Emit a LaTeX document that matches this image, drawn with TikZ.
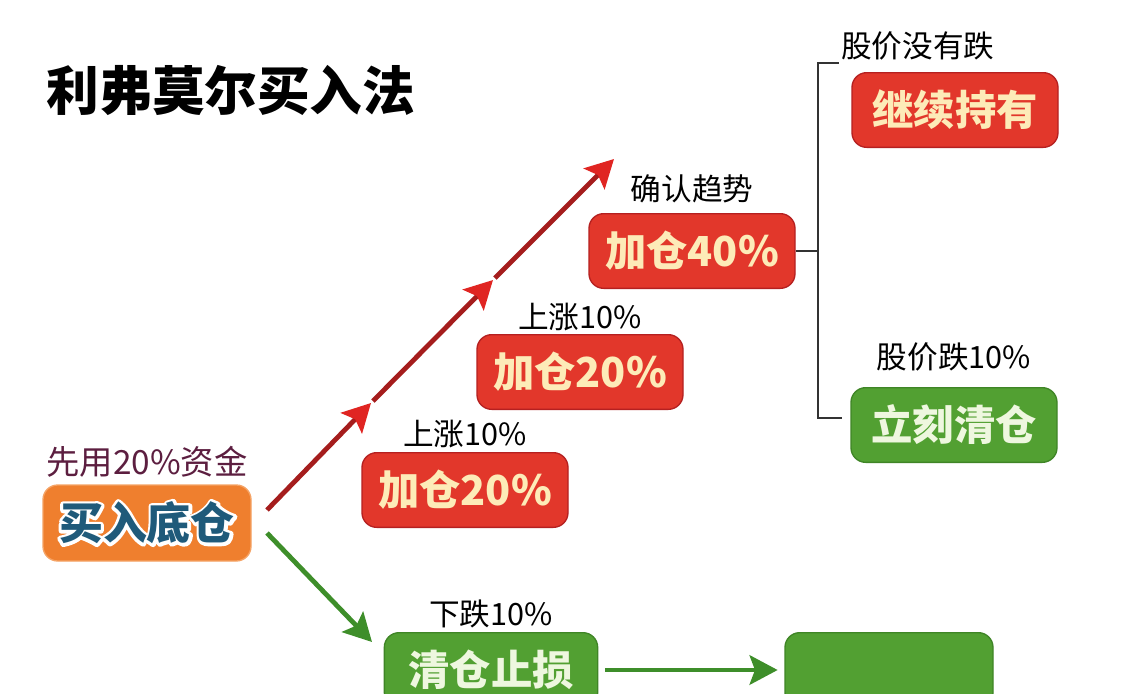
\documentclass[tikz,border=0pt]{standalone}
\usepackage{fontspec}
\setmainfont{Noto Sans CJK SC}
\usepackage{tikz}
\usetikzlibrary{arrows.meta, positioning}

\definecolor{boxred}{HTML}{E2372B}
\definecolor{redline}{HTML}{B52020}
\definecolor{cream}{HTML}{FDEBB8}
\definecolor{boxgreen}{HTML}{52A032}
\definecolor{greenline}{HTML}{3F8526}
\definecolor{leaf}{HTML}{EEF7DF}
\definecolor{boxorange}{HTML}{EF7F2E}
\definecolor{orangeline}{HTML}{F5A365}
\definecolor{seedblue}{HTML}{1F5A7A}
\definecolor{maroon}{HTML}{5C1E40}
\definecolor{arrowred}{HTML}{A51D1D}
\definecolor{tipred}{HTML}{E02522}
\definecolor{arrowgreen}{HTML}{3E8E2A}

% white outline behind a text
\newcommand{\halo}[1]{\rlap{\special{pdf:code q 1 Tr 1 1 1 RG 4.5 w 1 j}\textcolor{white}{#1}\special{pdf:code Q}}#1}

\begin{document}
\begin{tikzpicture}[
        x=0.75pt, y=-0.75pt,
        redbox/.style={rectangle, rounded corners=11pt, draw=redline, line width=1pt, fill=boxred, minimum width=154.5pt, minimum height=56pt, text=cream, font=\bfseries\fontsize{31}{36}\selectfont},
        greenbox/.style={redbox, draw=greenline, fill=boxgreen, text=leaf},
        seedbox/.style={rectangle, rounded corners=11pt, fill=boxorange, draw=orangeline, line width=1pt, minimum width=156pt, minimum height=57pt, text=seedblue, font=\bfseries\fontsize{33}{38}\selectfont},
        lbl/.style={inner sep=1pt, font=\fontsize{23}{27}\selectfont},
        uparrow/.style={line width=3.6pt, draw=arrowred, -{Stealth[length=21pt, width=22pt, inset=4pt, color=tipred]}},
        downarrow/.style={line width=3.6pt, draw=arrowgreen, -{Stealth[length=21pt, width=22pt, inset=4pt]}},
        bracket/.style={line width=1.8pt, draw=black!80}
    ]

    \useasboundingbox (0,0) rectangle (1125,693);
    \clip (0,0) rectangle (1125,693);
    \fill [white] (0,0) rectangle (1125,693);

    % Title
    \node (title) [font=\bfseries\fontsize{39.5}{44}\selectfont] at (231,90) {利弗莫尔买入法};

    % Base position
    \node (seed) [seedbox] at (147,523) {\halo{买入底仓}};
    \node (seedlbl) [lbl, text=maroon, font=\fontsize{25}{29}\selectfont, above=4pt of seed] {先用20\%资金};

    % Adding positions
    \node (add1) [redbox] at (465,490) {加仓20\%};
    \node (up1) [lbl, above=2pt of add1] {上涨10\%};
    \node (add2) [redbox] at (580,372) {加仓20\%};
    \node (up2) [lbl, above=1pt of add2] {上涨10\%};
    \node (add3) [redbox] at (692,251) {加仓40\%};
    \node (trend) [lbl, above=6pt of add3] {确认趋势};

    % Outcomes
    \node (hold) [redbox] at (955,110) {继续持有};
    \node (holdlbl) [lbl, above=8pt of hold, xshift=-28pt] {股价没有跌};
    \node (sell) [greenbox] at (954,425) {立刻清仓};
    \node (selllbl) [lbl, above=11pt of sell] {股价跌10\%};

    % Stop loss
    \node (stop) [greenbox, minimum width=160pt] at (491,670) {清仓止损};
    \node (drop) [lbl, above=2pt of stop] {下跌10\%};
    \node (next) [greenbox, minimum width=156pt] at (889,670) {};

    % Rising path
    \coordinate (r0) at (267,510);
    \coordinate (r1) at (371,403);
    \coordinate (r2) at (493,280);
    \coordinate (r3) at (614,159);
    \draw [uparrow] (r0) -- (r1);
    \draw [uparrow, shorten <=2pt] (r1) -- (r2);
    \draw [uparrow, shorten <=2pt] (r2) -- (r3);

    % Falling path
    \coordinate (g0) at (267,533);
    \coordinate (g1) at (372,642);
    \draw [downarrow] (g0) -- (g1);
    \draw [downarrow] ([xshift=5pt]stop.east) -- ([xshift=-5pt]next.west);

    % Bracket
    \coordinate (btop) at (818,63);
    \coordinate (bbot) at (818,418);
    \draw [bracket] ([xshift=15.5pt]btop) -- (btop) -- (bbot) -- ([xshift=18pt]bbot);
    \draw [bracket] (add3.east) -- (add3.east -| btop);

\end{tikzpicture}
\end{document}
